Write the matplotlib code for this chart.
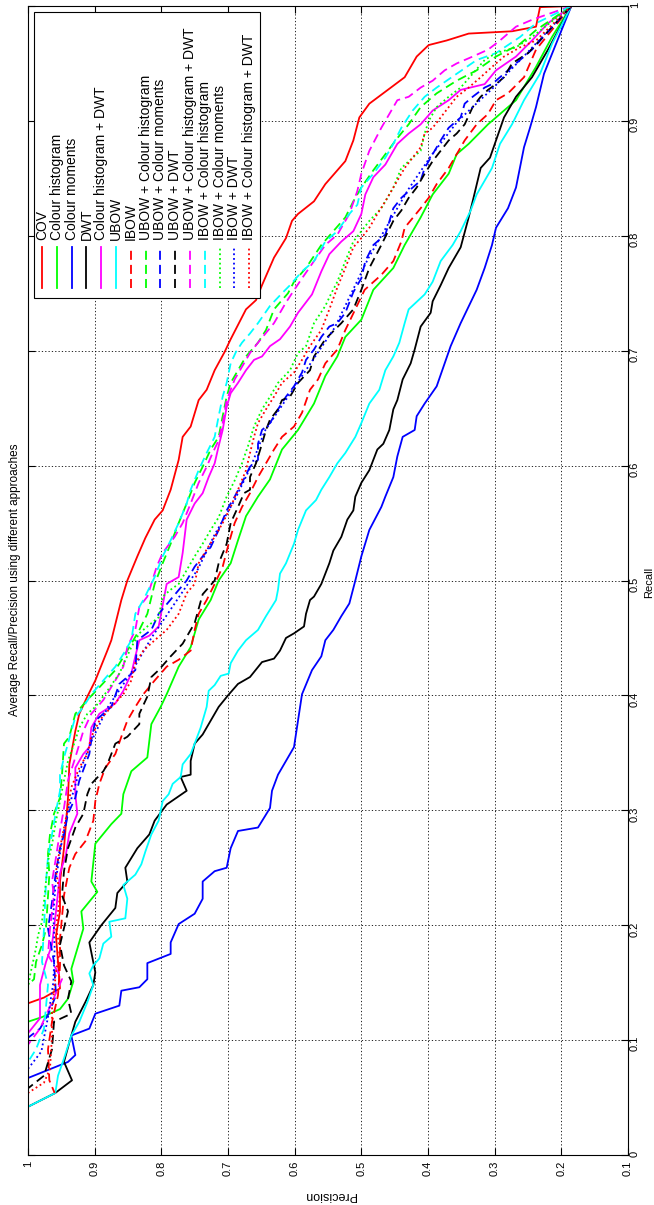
import matplotlib.pyplot as plt
from matplotlib.patches import Rectangle

plt.rcParams['font.family'] = ['Liberation Sans', 'DejaVu Sans']

# tick positions / labels
precision_ticks = [1.0, 0.9, 0.8, 0.7, 0.6, 0.5, 0.4, 0.3, 0.2, 0.1]
precision_labels = ['1', '0.9', '0.8', '0.7', '0.6', '0.5', '0.4', '0.3', '0.2', '0.1']
recall_ticks = [0, 0.1, 0.2, 0.3, 0.4, 0.5, 0.6, 0.7, 0.8, 0.9, 1.0]
recall_labels = ['0', '0.1', '0.2', '0.3', '0.4', '0.5', '0.6', '0.7', '0.8', '0.9', '1']

# (recall, precision) pairs
cov = [(1.0, 0.185), (0.999, 0.232), (0.982, 0.238), (0.978, 0.274), (0.976, 0.339), (0.970, 0.372),
       (0.966, 0.399), (0.956, 0.417), (0.938, 0.435), (0.928, 0.458), (0.915, 0.488), (0.903, 0.503),
       (0.883, 0.512), (0.865, 0.524), (0.845, 0.554), (0.830, 0.571), (0.819, 0.595), (0.813, 0.604),
       (0.798, 0.613), (0.781, 0.631), (0.757, 0.649), (0.744, 0.658), (0.736, 0.673), (0.710, 0.696),
       (0.699, 0.705), (0.683, 0.720), (0.666, 0.732), (0.657, 0.744), (0.634, 0.756), (0.625, 0.768),
       (0.605, 0.774), (0.579, 0.786), (0.561, 0.798), (0.553, 0.810), (0.537, 0.824), (0.521, 0.836),
       (0.500, 0.851), (0.483, 0.860), (0.448, 0.875), (0.439, 0.881), (0.413, 0.899), (0.399, 0.911),
       (0.384, 0.923), (0.369, 0.929), (0.340, 0.938), (0.311, 0.940), (0.267, 0.946), (0.238, 0.952),
       (0.212, 0.952), (0.191, 0.958), (0.145, 0.952), (0.137, 0.976), (0.132, 1.0)]

colour_hist = [(1.0, 0.185), (0.973, 0.214), (0.947, 0.238), (0.918, 0.268), (0.897, 0.310), (0.880, 0.339),
               (0.871, 0.357), (0.854, 0.369), (0.836, 0.393), (0.816, 0.411), (0.792, 0.435), (0.772, 0.452),
               (0.753, 0.482), (0.727, 0.500), (0.712, 0.524), (0.695, 0.536), (0.678, 0.554), (0.654, 0.571),
               (0.631, 0.595), (0.614, 0.619), (0.588, 0.637), (0.573, 0.655), (0.556, 0.673), (0.535, 0.685),
               (0.515, 0.696), (0.500, 0.714), (0.483, 0.726), (0.466, 0.744), (0.442, 0.756), (0.425, 0.774),
               (0.401, 0.792), (0.390, 0.801), (0.375, 0.815), (0.346, 0.821), (0.334, 0.845), (0.314, 0.857),
               (0.297, 0.860), (0.288, 0.875), (0.271, 0.899), (0.238, 0.905), (0.229, 0.896), (0.212, 0.920),
               (0.197, 0.917), (0.162, 0.935), (0.151, 0.932), (0.136, 0.940), (0.127, 0.952), (0.120, 0.979),
               (0.116, 1.0)]

colour_mom = [(1.0, 0.185), (0.967, 0.208), (0.941, 0.226), (0.912, 0.238), (0.894, 0.247), (0.877, 0.256),
              (0.842, 0.268), (0.824, 0.280), (0.807, 0.298), (0.792, 0.304), (0.772, 0.315), (0.753, 0.327),
              (0.724, 0.351), (0.704, 0.366), (0.689, 0.375), (0.669, 0.387), (0.654, 0.405), (0.643, 0.417),
              (0.631, 0.420), (0.625, 0.438), (0.608, 0.446), (0.590, 0.452), (0.573, 0.464), (0.564, 0.470),
              (0.544, 0.488), (0.521, 0.500), (0.500, 0.509), (0.480, 0.518), (0.469, 0.530), (0.457, 0.542),
              (0.448, 0.554), (0.434, 0.560), (0.422, 0.574), (0.401, 0.589), (0.378, 0.595), (0.355, 0.601),
              (0.343, 0.613), (0.331, 0.625), (0.317, 0.634), (0.302, 0.637), (0.285, 0.655), (0.282, 0.685),
              (0.267, 0.696), (0.250, 0.702), (0.247, 0.720), (0.238, 0.738), (0.223, 0.738), (0.210, 0.750),
              (0.201, 0.774), (0.185, 0.786), (0.175, 0.786), (0.167, 0.821), (0.153, 0.821), (0.146, 0.833),
              (0.143, 0.860), (0.130, 0.863), (0.123, 0.899), (0.110, 0.908), (0.104, 0.935), (0.087, 0.929),
              (0.081, 0.940), (0.067, 1.0)]

dwt = [(1.0, 0.185), (0.962, 0.220), (0.938, 0.244), (0.921, 0.268), (0.903, 0.286), (0.883, 0.298),
       (0.868, 0.307), (0.859, 0.321), (0.830, 0.333), (0.816, 0.339), (0.790, 0.351), (0.772, 0.369),
       (0.757, 0.381), (0.743, 0.393), (0.733, 0.396), (0.721, 0.411), (0.701, 0.420), (0.689, 0.426),
       (0.675, 0.438), (0.657, 0.446), (0.649, 0.452), (0.631, 0.458), (0.619, 0.467), (0.614, 0.476),
       (0.596, 0.488), (0.585, 0.500), (0.573, 0.509), (0.561, 0.512), (0.553, 0.521), (0.538, 0.530),
       (0.526, 0.542), (0.515, 0.548), (0.497, 0.560), (0.486, 0.571), (0.483, 0.577), (0.471, 0.583),
       (0.460, 0.586), (0.454, 0.601), (0.450, 0.613), (0.439, 0.622), (0.432, 0.631), (0.429, 0.649),
       (0.416, 0.667), (0.410, 0.685), (0.400, 0.700), (0.390, 0.714), (0.378, 0.726), (0.366, 0.738),
       (0.358, 0.750), (0.343, 0.756), (0.331, 0.756), (0.329, 0.771), (0.317, 0.762), (0.305, 0.792),
       (0.291, 0.810), (0.279, 0.818), (0.267, 0.836), (0.250, 0.854), (0.238, 0.851), (0.228, 0.866),
       (0.215, 0.869), (0.200, 0.890), (0.185, 0.908), (0.159, 0.899), (0.148, 0.902), (0.133, 0.914),
       (0.116, 0.929), (0.098, 0.938), (0.081, 0.946), (0.065, 0.934), (0.054, 0.959), (0.042, 1.0)]

colour_hist_dwt = [(1.0, 0.185), (0.985, 0.220), (0.970, 0.244), (0.956, 0.268), (0.944, 0.298), (0.932, 0.315),
                   (0.927, 0.351), (0.918, 0.369), (0.909, 0.393), (0.897, 0.411), (0.889, 0.429), (0.880, 0.446),
                   (0.862, 0.464), (0.851, 0.482), (0.836, 0.494), (0.819, 0.500), (0.804, 0.512), (0.795, 0.530),
                   (0.784, 0.548), (0.769, 0.560), (0.749, 0.574), (0.733, 0.595), (0.721, 0.607), (0.710, 0.622),
                   (0.704, 0.637), (0.695, 0.649), (0.692, 0.661), (0.683, 0.673), (0.672, 0.685), (0.663, 0.696),
                   (0.651, 0.702), (0.631, 0.708), (0.617, 0.714), (0.602, 0.720), (0.590, 0.729), (0.576, 0.738),
                   (0.567, 0.750), (0.553, 0.762), (0.524, 0.768), (0.503, 0.774), (0.497, 0.792), (0.460, 0.804),
                   (0.452, 0.818), (0.448, 0.833), (0.434, 0.839), (0.419, 0.845), (0.404, 0.857), (0.393, 0.869),
                   (0.384, 0.893), (0.372, 0.905), (0.355, 0.908), (0.349, 0.917), (0.337, 0.929), (0.314, 0.929),
                   (0.297, 0.926), (0.280, 0.938), (0.262, 0.943), (0.245, 0.952), (0.212, 0.958), (0.183, 0.964),
                   (0.168, 0.973), (0.148, 0.982), (0.119, 0.982), (0.106, 1.0)]

ubow = [(1.0, 0.185), (0.967, 0.214), (0.941, 0.232), (0.918, 0.256), (0.897, 0.274), (0.880, 0.292),
        (0.859, 0.304), (0.848, 0.315), (0.836, 0.327), (0.822, 0.336), (0.804, 0.351), (0.792, 0.363),
        (0.778, 0.381), (0.760, 0.393), (0.749, 0.405), (0.736, 0.429), (0.724, 0.435), (0.707, 0.443),
        (0.695, 0.452), (0.683, 0.464), (0.666, 0.473), (0.654, 0.488), (0.637, 0.500), (0.625, 0.509),
        (0.611, 0.524), (0.602, 0.536), (0.590, 0.548), (0.579, 0.560), (0.570, 0.568), (0.561, 0.583),
        (0.544, 0.595), (0.532, 0.601), (0.515, 0.613), (0.506, 0.622), (0.492, 0.625), (0.483, 0.628),
        (0.469, 0.643), (0.457, 0.655), (0.448, 0.673), (0.439, 0.685), (0.428, 0.696), (0.419, 0.699),
        (0.417, 0.711), (0.409, 0.720), (0.404, 0.729), (0.390, 0.732), (0.372, 0.741), (0.358, 0.750),
        (0.349, 0.756), (0.340, 0.768), (0.329, 0.771), (0.323, 0.783), (0.314, 0.789), (0.308, 0.798),
        (0.291, 0.804), (0.279, 0.815), (0.264, 0.824), (0.253, 0.830), (0.244, 0.839), (0.235, 0.857),
        (0.223, 0.851), (0.206, 0.854), (0.203, 0.878), (0.190, 0.875), (0.184, 0.887), (0.171, 0.893),
        (0.165, 0.902), (0.158, 0.908), (0.148, 0.902), (0.133, 0.911), (0.116, 0.923), (0.104, 0.935),
        (0.084, 0.946), (0.069, 0.955), (0.054, 0.959), (0.042, 1.0)]

ibow = [(1.0, 0.185), (0.962, 0.238), (0.938, 0.256), (0.924, 0.280), (0.918, 0.298), (0.906, 0.310),
        (0.897, 0.327), (0.883, 0.345), (0.871, 0.357), (0.859, 0.369), (0.845, 0.387), (0.833, 0.399),
        (0.824, 0.411), (0.807, 0.435), (0.795, 0.440), (0.778, 0.452), (0.766, 0.470), (0.753, 0.495),
        (0.718, 0.524), (0.701, 0.536), (0.689, 0.554), (0.675, 0.565), (0.666, 0.577), (0.646, 0.589),
        (0.634, 0.601), (0.625, 0.619), (0.614, 0.631), (0.602, 0.643), (0.590, 0.655), (0.576, 0.667),
        (0.564, 0.679), (0.550, 0.690), (0.532, 0.699), (0.512, 0.708), (0.497, 0.720), (0.483, 0.732),
        (0.471, 0.744), (0.457, 0.750), (0.439, 0.756), (0.431, 0.774), (0.425, 0.792), (0.413, 0.810),
        (0.401, 0.827), (0.390, 0.839), (0.378, 0.851), (0.364, 0.860), (0.349, 0.869), (0.337, 0.884),
        (0.323, 0.893), (0.308, 0.899), (0.291, 0.902), (0.273, 0.914), (0.262, 0.929), (0.250, 0.938),
        (0.226, 0.946), (0.188, 0.952), (0.165, 0.952), (0.139, 0.955), (0.116, 0.964), (0.092, 0.970),
        (0.065, 0.968), (0.054, 0.960)]

ubow_ch = [(1.0, 0.185), (0.979, 0.238), (0.967, 0.262), (0.956, 0.298), (0.944, 0.327), (0.935, 0.357),
           (0.924, 0.387), (0.912, 0.411), (0.897, 0.429), (0.885, 0.446), (0.871, 0.464), (0.857, 0.482),
           (0.842, 0.500), (0.830, 0.512), (0.816, 0.524), (0.804, 0.542), (0.792, 0.560), (0.772, 0.583),
           (0.760, 0.601), (0.750, 0.610), (0.736, 0.631), (0.718, 0.643), (0.707, 0.655), (0.695, 0.673),
           (0.683, 0.685), (0.672, 0.696), (0.660, 0.702), (0.643, 0.708), (0.625, 0.714), (0.614, 0.726),
           (0.599, 0.738), (0.585, 0.750), (0.567, 0.762), (0.550, 0.774), (0.532, 0.786), (0.515, 0.798),
           (0.497, 0.810), (0.471, 0.821), (0.457, 0.833), (0.439, 0.851), (0.422, 0.869), (0.407, 0.893),
           (0.396, 0.911), (0.384, 0.929), (0.364, 0.938), (0.358, 0.946), (0.331, 0.949), (0.311, 0.952),
           (0.297, 0.961), (0.279, 0.967), (0.262, 0.970), (0.244, 0.968), (0.197, 0.973), (0.183, 0.979),
           (0.168, 0.988), (0.153, 0.991), (0.148, 1.0)]

ubow_cm = [(1.0, 0.185), (0.962, 0.244), (0.953, 0.262), (0.944, 0.280), (0.932, 0.304), (0.929, 0.315),
           (0.921, 0.333), (0.915, 0.345), (0.903, 0.351), (0.894, 0.369), (0.883, 0.381), (0.871, 0.393),
           (0.859, 0.405), (0.848, 0.411), (0.842, 0.423), (0.833, 0.440), (0.824, 0.452), (0.801, 0.464),
           (0.792, 0.482), (0.778, 0.494), (0.763, 0.500), (0.751, 0.512), (0.733, 0.524), (0.724, 0.536),
           (0.721, 0.548), (0.712, 0.560), (0.701, 0.571), (0.692, 0.583), (0.681, 0.589), (0.669, 0.601),
           (0.660, 0.613), (0.649, 0.625), (0.637, 0.637), (0.631, 0.649), (0.619, 0.655), (0.605, 0.655),
           (0.599, 0.667), (0.585, 0.679), (0.573, 0.690), (0.561, 0.702), (0.544, 0.714), (0.529, 0.726),
           (0.521, 0.738), (0.512, 0.750), (0.500, 0.762), (0.471, 0.804), (0.457, 0.815), (0.448, 0.836),
           (0.422, 0.839), (0.410, 0.863), (0.390, 0.875), (0.378, 0.899), (0.361, 0.905), (0.349, 0.908),
           (0.326, 0.923), (0.311, 0.929), (0.297, 0.940), (0.279, 0.946), (0.267, 0.952), (0.247, 0.958),
           (0.220, 0.964), (0.197, 0.970), (0.168, 0.961), (0.139, 0.958), (0.122, 0.970), (0.110, 0.982),
           (0.102, 1.0)]

ubow_dwt = [(1.0, 0.185), (0.959, 0.250), (0.950, 0.274), (0.938, 0.286), (0.932, 0.298), (0.927, 0.310),
            (0.921, 0.321), (0.912, 0.333), (0.897, 0.345), (0.889, 0.357), (0.883, 0.369), (0.874, 0.381),
            (0.865, 0.393), (0.854, 0.405), (0.842, 0.417), (0.833, 0.429), (0.822, 0.440), (0.813, 0.452),
            (0.792, 0.470), (0.772, 0.488), (0.753, 0.500), (0.736, 0.512), (0.724, 0.530), (0.710, 0.554),
            (0.695, 0.571), (0.683, 0.577), (0.672, 0.595), (0.660, 0.607), (0.657, 0.619), (0.649, 0.625),
            (0.640, 0.637), (0.631, 0.643), (0.619, 0.649), (0.602, 0.658), (0.590, 0.667), (0.579, 0.667),
            (0.576, 0.676), (0.564, 0.685), (0.550, 0.696), (0.532, 0.702), (0.515, 0.714), (0.500, 0.720),
            (0.488, 0.738), (0.463, 0.750), (0.445, 0.768), (0.434, 0.786), (0.422, 0.804), (0.416, 0.815),
            (0.399, 0.821), (0.384, 0.833), (0.375, 0.833), (0.364, 0.851), (0.358, 0.869), (0.340, 0.881),
            (0.334, 0.887), (0.323, 0.905), (0.314, 0.911), (0.297, 0.917), (0.285, 0.929), (0.267, 0.940),
            (0.247, 0.946), (0.226, 0.949), (0.212, 0.940), (0.183, 0.952), (0.165, 0.946), (0.151, 0.935),
            (0.136, 0.940), (0.123, 0.935), (0.116, 0.961), (0.092, 0.964), (0.069, 0.976), (0.058, 1.0)]

ubow_ch_dwt = [(1.0, 0.185), (0.988, 0.244), (0.982, 0.268), (0.970, 0.292), (0.962, 0.310), (0.956, 0.333),
               (0.950, 0.357), (0.944, 0.375), (0.935, 0.393), (0.929, 0.411), (0.921, 0.429), (0.918, 0.446),
               (0.906, 0.458), (0.894, 0.470), (0.874, 0.488), (0.854, 0.500), (0.839, 0.506), (0.819, 0.518),
               (0.801, 0.536), (0.792, 0.554), (0.778, 0.571), (0.763, 0.589), (0.750, 0.604), (0.742, 0.613),
               (0.724, 0.631), (0.707, 0.655), (0.698, 0.667), (0.686, 0.679), (0.675, 0.690), (0.657, 0.702),
               (0.637, 0.708), (0.622, 0.714), (0.611, 0.723), (0.599, 0.732), (0.585, 0.744), (0.567, 0.756),
               (0.550, 0.768), (0.538, 0.780), (0.524, 0.798), (0.512, 0.807), (0.497, 0.815), (0.486, 0.821),
               (0.477, 0.833), (0.457, 0.839), (0.442, 0.851), (0.425, 0.857), (0.413, 0.869), (0.396, 0.887),
               (0.384, 0.905), (0.369, 0.917), (0.346, 0.929), (0.326, 0.940), (0.302, 0.946), (0.282, 0.952),
               (0.259, 0.958), (0.238, 0.964), (0.226, 0.961), (0.197, 0.967), (0.174, 0.970), (0.153, 0.949),
               (0.133, 0.964), (0.110, 0.982), (0.096, 1.0)]

ibow_ch = [(1.0, 0.185), (0.985, 0.238), (0.973, 0.262), (0.959, 0.298), (0.953, 0.327), (0.941, 0.357),
           (0.929, 0.387), (0.921, 0.405), (0.909, 0.423), (0.894, 0.440), (0.880, 0.452), (0.868, 0.464),
           (0.854, 0.482), (0.842, 0.500), (0.827, 0.506), (0.819, 0.518), (0.804, 0.536), (0.795, 0.554),
           (0.778, 0.571), (0.769, 0.589), (0.757, 0.607), (0.750, 0.619), (0.739, 0.637), (0.724, 0.655),
           (0.715, 0.667), (0.707, 0.679), (0.699, 0.688), (0.689, 0.696), (0.672, 0.702), (0.660, 0.708),
           (0.643, 0.714), (0.625, 0.720), (0.611, 0.732), (0.596, 0.744), (0.579, 0.756), (0.567, 0.762),
           (0.550, 0.774), (0.535, 0.786), (0.521, 0.798), (0.503, 0.810), (0.483, 0.827), (0.471, 0.839),
           (0.448, 0.845), (0.436, 0.857), (0.425, 0.869), (0.413, 0.887), (0.401, 0.905), (0.390, 0.917),
           (0.381, 0.929), (0.369, 0.935), (0.358, 0.940), (0.346, 0.946), (0.331, 0.952), (0.317, 0.952),
           (0.299, 0.958), (0.279, 0.964), (0.259, 0.970), (0.238, 0.973), (0.197, 0.976), (0.168, 0.979),
           (0.148, 0.970), (0.110, 0.976), (0.092, 0.988), (0.081, 1.0)]

ibow_cm = [(1.0, 0.185), (0.973, 0.244), (0.964, 0.268), (0.959, 0.298), (0.953, 0.315), (0.941, 0.333),
           (0.929, 0.351), (0.921, 0.369), (0.912, 0.387), (0.900, 0.399), (0.889, 0.405), (0.874, 0.411),
           (0.868, 0.423), (0.859, 0.440), (0.842, 0.452), (0.824, 0.470), (0.813, 0.488), (0.804, 0.500),
           (0.795, 0.512), (0.778, 0.524), (0.760, 0.536), (0.750, 0.545), (0.739, 0.554), (0.724, 0.571),
           (0.704, 0.583), (0.698, 0.595), (0.683, 0.607), (0.672, 0.625), (0.660, 0.637), (0.649, 0.649),
           (0.634, 0.661), (0.617, 0.670), (0.602, 0.679), (0.587, 0.690), (0.573, 0.702), (0.555, 0.714),
           (0.544, 0.726), (0.532, 0.738), (0.521, 0.750), (0.509, 0.762), (0.497, 0.774), (0.492, 0.786),
           (0.486, 0.798), (0.468, 0.804), (0.460, 0.821), (0.454, 0.833), (0.442, 0.845), (0.419, 0.863),
           (0.404, 0.881), (0.390, 0.899), (0.384, 0.911), (0.372, 0.923), (0.361, 0.929), (0.343, 0.940),
           (0.326, 0.946), (0.308, 0.952), (0.291, 0.958), (0.270, 0.964), (0.256, 0.970), (0.238, 0.973),
           (0.203, 0.979), (0.191, 0.985), (0.180, 0.988), (0.156, 0.997), (0.145, 1.0)]

ibow_dwt = [(1.0, 0.185), (0.960, 0.250), (0.930, 0.300), (0.900, 0.355), (0.870, 0.395), (0.840, 0.430),
            (0.810, 0.460), (0.780, 0.490), (0.750, 0.515), (0.720, 0.540), (0.690, 0.575), (0.660, 0.610),
            (0.630, 0.645), (0.600, 0.665), (0.570, 0.690), (0.540, 0.720), (0.510, 0.745), (0.480, 0.780),
            (0.450, 0.815), (0.420, 0.845), (0.390, 0.880), (0.360, 0.905), (0.330, 0.925), (0.300, 0.940),
            (0.270, 0.950), (0.240, 0.958), (0.210, 0.962), (0.180, 0.960), (0.150, 0.962), (0.120, 0.970),
            (0.090, 0.980), (0.075, 1.0)]

ibow_ch_dwt = [(1.0, 0.185), (0.970, 0.238), (0.964, 0.262), (0.956, 0.286), (0.947, 0.304), (0.938, 0.321),
               (0.929, 0.339), (0.921, 0.357), (0.912, 0.369), (0.903, 0.381), (0.894, 0.393), (0.889, 0.405),
               (0.877, 0.411), (0.868, 0.423), (0.859, 0.435), (0.848, 0.446), (0.830, 0.464), (0.819, 0.476),
               (0.807, 0.488), (0.798, 0.500), (0.790, 0.512), (0.772, 0.524), (0.755, 0.536), (0.736, 0.548),
               (0.718, 0.560), (0.704, 0.577), (0.692, 0.589), (0.681, 0.601), (0.672, 0.619), (0.660, 0.631),
               (0.649, 0.643), (0.637, 0.655), (0.625, 0.661), (0.611, 0.667), (0.596, 0.673), (0.579, 0.685),
               (0.564, 0.696), (0.550, 0.708), (0.538, 0.720), (0.527, 0.732), (0.515, 0.744), (0.497, 0.750),
               (0.489, 0.762), (0.471, 0.774), (0.457, 0.792), (0.448, 0.810), (0.439, 0.827), (0.428, 0.839),
               (0.413, 0.845), (0.401, 0.857), (0.390, 0.875), (0.378, 0.893), (0.364, 0.905), (0.349, 0.911),
               (0.337, 0.923), (0.320, 0.935), (0.302, 0.940), (0.285, 0.946), (0.267, 0.952), (0.247, 0.958),
               (0.226, 0.952), (0.197, 0.958), (0.180, 0.952), (0.159, 0.958), (0.127, 0.964), (0.104, 0.964),
               (0.075, 0.967), (0.063, 0.976), (0.054, 1.0)]

series = [cov, colour_hist, colour_mom, dwt, colour_hist_dwt, ubow, ibow, ubow_ch, ubow_cm,
          ubow_dwt, ubow_ch_dwt, ibow_ch, ibow_cm, ibow_dwt, ibow_ch_dwt]
labels = ['COV', 'Colour histogram', 'Colour moments', 'DWT', 'Colour histogram + DWT', 'UBOW', 'IBOW',
          'UBOW + Colour histogram', 'UBOW + Colour moments', 'UBOW + DWT', 'UBOW + Colour histogram + DWT',
          'IBOW + Colour histogram', 'IBOW + Colour moments', 'IBOW + DWT', 'IBOW + Colour histogram + DWT']
colors = ['#ff0000', '#00ff00', '#0000ff', '#000000', '#ff00ff', '#00ffff', '#ff0000', '#00ff00',
          '#0000ff', '#000000', '#ff00ff', '#00ffff', '#00ff00', '#0000ff', '#ff0000']
styles = ['-', '-', '-', '-', '-', '-', '--', '--', '--', '--', '--', '--', ':', ':', ':']

dash_map = {'-': None, '--': (5, 2.8), ':': (1.0, 1.6)}
LW = 1.3

W, H = 654, 1205
ax_l, ax_r, ax_t, ax_b = 28, 628, 6, 1155

fig = plt.figure(figsize=(W / 100, H / 100), dpi=100)
ax = fig.add_axes([ax_l / W, (H - ax_b) / H, (ax_r - ax_l) / W, (ax_b - ax_t) / H])


def style_line(line, ls):
    if dash_map[ls] is not None:
        line.set_dashes(dash_map[ls])


# rotated MATLAB plot: precision along x (reversed), recall along y
for s, c, ls in zip(series, colors, styles):
    rec = [r for r, p in s]
    pre = [p for r, p in s]
    ln, = ax.plot(pre, rec, color=c, lw=LW)
    style_line(ln, ls)

ax.set_xlim(1.0, 0.1)
ax.set_ylim(0, 1)
ax.set_xticks(precision_ticks)
ax.set_xticklabels(precision_labels)
ax.set_yticks(recall_ticks)
ax.set_yticklabels(recall_labels)
ax.grid(True, color='k', linestyle=(0, (1.5, 2.5)), linewidth=0.6)
ax.tick_params(direction='in', length=5, width=0.8, top=True, right=True,
               labelbottom=True, labelright=True, labelleft=False, labeltop=False,
               labelsize=8, labelrotation=90)
ax.tick_params(axis='x', pad=4)
ax.tick_params(axis='y', pad=1.5)
for sp in ax.spines.values():
    sp.set_linewidth(0.8)

# legend drawn by hand (rotated)
def fx(px):
    return (px - ax_l) / (ax_r - ax_l)


def fy(py):
    return (ax_b - py) / (ax_b - ax_t)


box = Rectangle((fx(34), fy(298)), fx(260) - fx(34), fy(12) - fy(298), transform=ax.transAxes,
                facecolor='white', edgecolor='k', lw=0.8, zorder=5)
ax.add_patch(box)
for i, (lab, c, ls) in enumerate(zip(labels, colors, styles)):
    x = fx(42 + 14.8 * i)
    ln, = ax.plot([x, x], [fy(288), fy(247)], color=c, lw=LW, transform=ax.transAxes, zorder=6,
                  clip_on=False)
    style_line(ln, ls)
    ax.text(x, fy(240), lab, rotation=90, ha='center', va='bottom', fontsize=10,
            transform=ax.transAxes, zorder=6)

fig.text(15 / W, 1 - 580 / H, 'Average Recall/Precision using different approaches', rotation=90,
         ha='center', va='center', fontsize=8.5)
fig.text(654 / W, 1 - 582 / H, 'Recall', rotation=90, ha='right', va='center', fontsize=8)
fig.text(330 / W, 1 - 1195 / H, 'Precision', rotation=180, ha='center', va='center', fontsize=9)

fig.savefig('out.png', dpi=100)
